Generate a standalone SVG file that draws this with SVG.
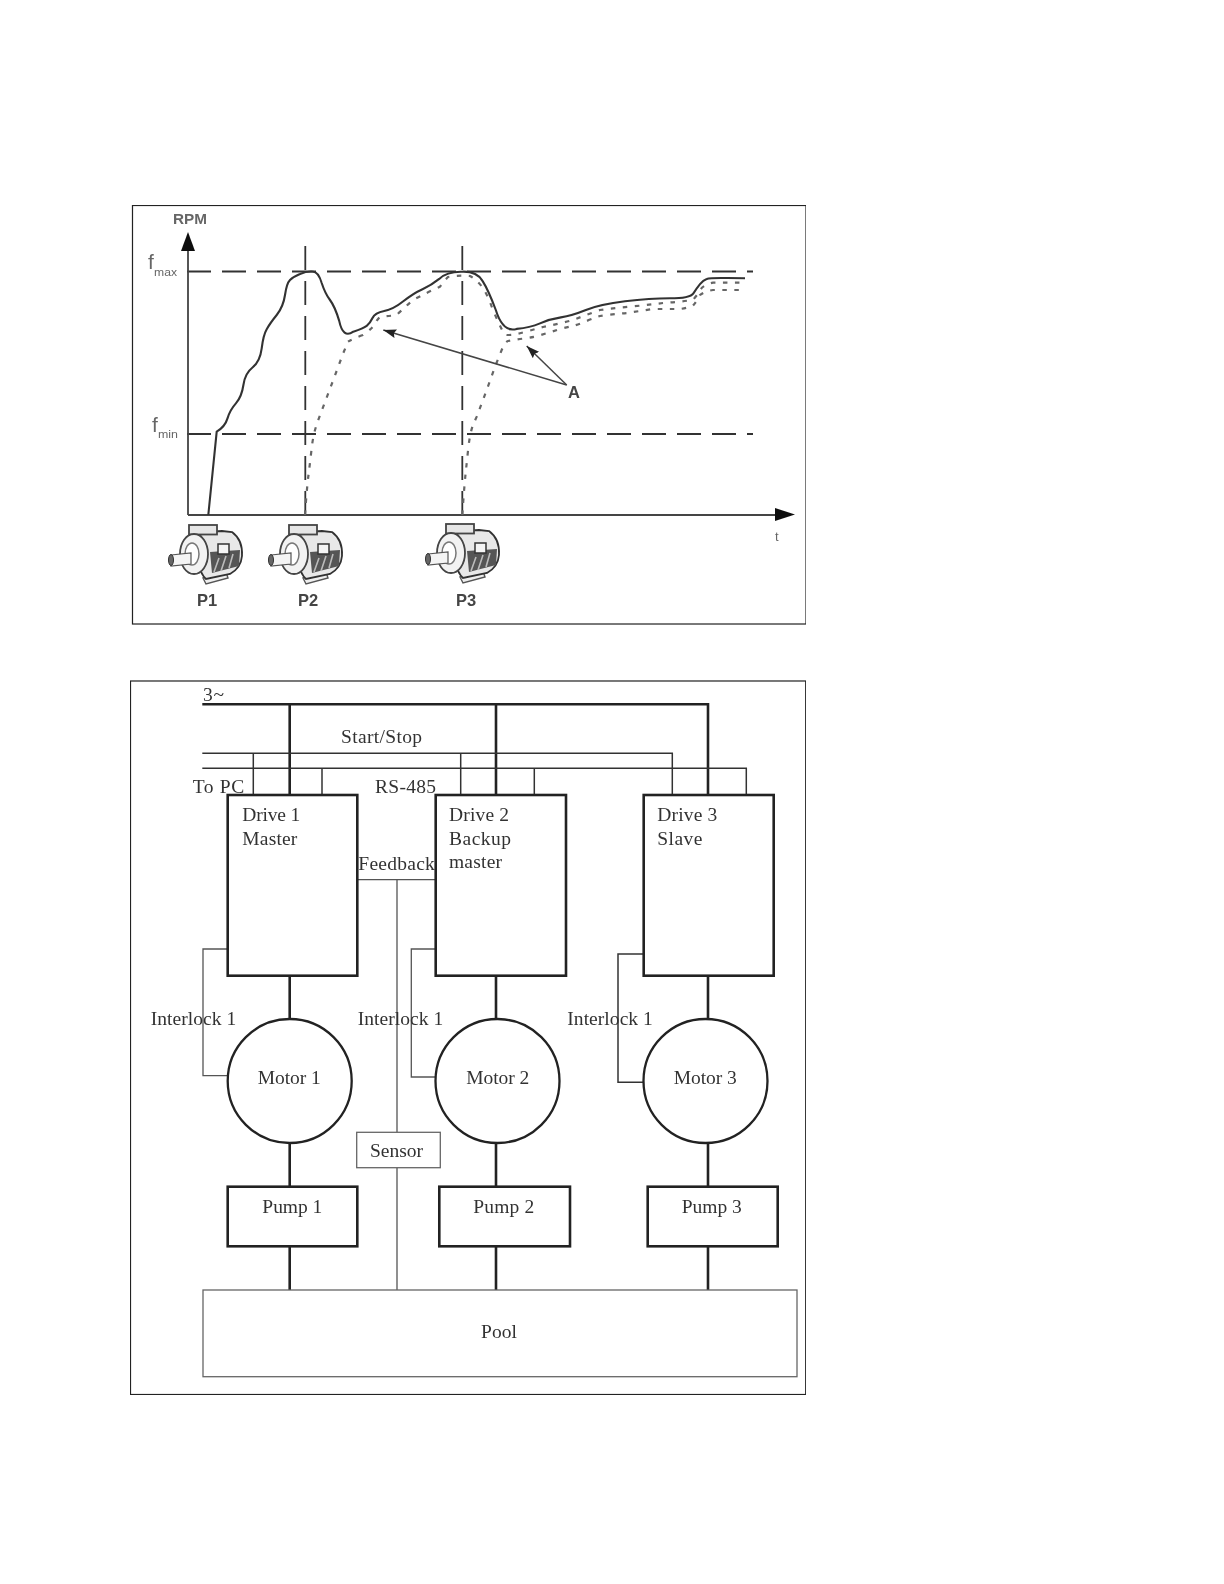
<svg xmlns="http://www.w3.org/2000/svg" xmlns:xlink="http://www.w3.org/1999/xlink" width="1224" height="1584" viewBox="0 0 1224 1584">
<style>
.frame{fill:#fff;stroke:#222;stroke-width:1.2}
.t{font-family:"Liberation Serif","Times New Roman",serif;font-size:19.5px;fill:#333}
.c{font-family:"Liberation Sans",Arial,sans-serif;fill:#666}
.b{font-family:"Liberation Sans",Arial,sans-serif;font-weight:700;font-size:16.5px;fill:#444;text-anchor:middle}
.dash{fill:none;stroke:#333;stroke-width:1.8;stroke-dasharray:24 11}
.sol{fill:none;stroke:#333;stroke-width:2.1;stroke-linejoin:round}
.dot{fill:none;stroke:#666;stroke-width:2.2;stroke-dasharray:4.5 7.5}
.lead{fill:none;stroke:#444;stroke-width:1.5}
.axis{fill:none;stroke:#444;stroke-width:1.8}
.n{fill:#fff;stroke:#222;stroke-width:2.6}
.m{fill:#fff;stroke:#222;stroke-width:2.3}
.g{fill:#fff;stroke:#666;stroke-width:1.3}
.thick{fill:none;stroke:#222;stroke-width:2.6}
.thin{fill:none;stroke:#555;stroke-width:1.3}
.thin2{fill:none;stroke:#333;stroke-width:1.5}
</style>
<defs>
<filter id="soft" x="0" y="0" width="100%" height="100%"><feGaussianBlur stdDeviation="0.4"/></filter>
<filter id="softer" x="-10%" y="-10%" width="120%" height="120%"><feGaussianBlur stdDeviation="0.7"/></filter>
<marker id="ah" markerWidth="14" markerHeight="10" refX="13" refY="4.5" orient="auto" markerUnits="userSpaceOnUse"><path d="M13 4.5 L0 0 L2 4.5 L0 9 Z" fill="#222"/></marker>
<g id="motor" filter="url(#softer)">
<path d="M203 578 L226 572 L228 578 L206 584 Z" fill="#eee" stroke="#555" stroke-width="1.4"/>
<path d="M196 537 Q206 531 222 531 L232 532 Q243 540 242 556 Q241 568 230 574 L206 579 Q196 570 196 537 Z" fill="#e8e8e8" stroke="#333" stroke-width="1.8"/>
<rect x="189" y="525" width="28" height="9.5" fill="#e6e6e6" stroke="#444" stroke-width="1.8"/>
<path d="M210 552 L240 550 L239 566 L212 573 Z" fill="#555"/>
<path d="M214 572 L219 558 M221 571 L226 556 M229 568 L233 554" stroke="#bbb" stroke-width="1.6" fill="none"/>
<rect x="218" y="544" width="11" height="10" fill="#f4f4f4" stroke="#333" stroke-width="1.5"/>
<ellipse cx="194" cy="554" rx="14" ry="20" fill="#f2f2f2" stroke="#444" stroke-width="1.8"/>
<ellipse cx="192" cy="554" rx="7" ry="11" fill="#fff" stroke="#777" stroke-width="1.5"/>
<path d="M171 555 L191 553 L191 564 L171 566 Z" fill="#f4f4f4" stroke="#555" stroke-width="1.2"/>
<ellipse cx="171" cy="560" rx="2.5" ry="5.5" fill="#666" stroke="#333"/>
</g>
</defs>
<rect width="1224" height="1584" fill="#fff"/>
<g filter="url(#soft)">
<g id="chart">
<rect class="frame" x="132.5" y="205.5" width="673.5" height="418.5"/>
<path class="dash" d="M187 271.5H753M187 434H753M305.3 246V515M462.3 246V515"/>
<path class="axis" d="M188 515V240M188 515H778"/>
<path d="M188 232L181 251H195Z" fill="#111"/>
<path d="M795 514.5L775 508V521Z" fill="#111"/>
<path class="sol" d="M208.3 515L216.7 431.7Q225 426.7 227.5 418.4Q230 410 235.9 403.4Q241.7 396.7 243.4 385Q245 373.3 252.5 367.5Q260 361.7 261.7 348.4Q263.3 335 266.7 329.2Q270 323.3 276.7 315Q283.3 306.7 285 295Q286.7 283.3 290 280Q293.3 276.7 300 274Q306.7 271 312.5 271.5Q318.3 271.5 321.7 283Q325 293.3 330 300Q335 306.7 339.2 320.9Q343 339 353.3 331.7Q363.3 328.3 366.7 325.8Q370 323.3 372.5 318Q375 312.7 384.2 311Q393.3 309.3 403.3 301.3Q413.3 293.3 422.5 289.2Q431.7 285 439.2 278.9Q446.7 271.5 461.7 271.7Q476.7 271 482.5 280.9Q488.3 290 495.8 310Q503 333 516.7 328.9Q530 327.7 540 323.4Q550 319 560.9 317.4Q571.7 315.7 585.9 310Q600 304.3 625 301.3Q650 298.3 670 298.3Q690 298.3 693.4 293.3Q696.7 288.3 700 284.2Q703.3 280 706.7 278.9Q710 277.7 727.5 278L745 278.3"/>
<path class="dot" d="M305 515Q306.7 490 308.3 476.5Q310 463 311.7 448Q313.3 433 318.3 419.9L333.3 380L343.3 353L348 341.7Q352 339 363 335Q369 331 373 326.7Q376 321 380 316.7Q390 316 396.7 315Q405 307 413 300Q428 292 440 286.7Q444 281 448 277Q460 275 470 276Q477 280 483 288Q488 296 491.7 306.7Q497 320 503 331.7Q505 335 506.7 335Q514 335 520 333.3Q532 330 543 327Q558 324 573 320Q586 315 600 310Q615 308 630 306.7Q647 305 663 303Q678 302 693 300Q698 294 701.7 288Q706 284 713 282.7L745 282.7"/>
<path class="dot" d="M462.3 515Q464 490 465.3 476.5Q466.7 463 468.3 448Q470 433 473 425L476.7 416.7L486.7 390L495 366.7L501.7 350Q505 342 508 341Q514 340 520 339Q528 338 535 336.7Q548 333 560 329Q567 327 573 326Q580 324 586.7 321Q594 318 600 316Q614 314 627 313Q640 311 653 309Q667 309 680 309Q688 308 693 305.7Q697 301 700 295Q705 291 713 290L742 290"/>
<path class="lead" d="M566.7 385L383.3 330" marker-end="url(#ah)"/>
<path class="lead" d="M566.7 385L526.7 346" marker-end="url(#ah)"/>
<use xlink:href="#motor" href="#motor"/>
<use xlink:href="#motor" href="#motor" x="100"/>
<use xlink:href="#motor" href="#motor" x="257" y="-1"/>
<text class="c" x="173" y="224" font-size="15" font-weight="700" textLength="34" lengthAdjust="spacingAndGlyphs">RPM</text>
<text class="c" x="148" y="269" font-size="21">f</text>
<text class="c" x="154" y="276" font-size="11" textLength="23" lengthAdjust="spacingAndGlyphs">max</text>
<text class="c" x="152" y="432" font-size="21">f</text>
<text class="c" x="158" y="438" font-size="11" textLength="20" lengthAdjust="spacingAndGlyphs">min</text>
<text class="c" x="775" y="541" font-size="13">t</text>
<text class="b" x="574" y="398">A</text>
<text class="b" x="207" y="606">P1</text>
<text class="b" x="308" y="606">P2</text>
<text class="b" x="466" y="606">P3</text>
</g>
<g id="system">
<rect class="frame" x="130.5" y="681" width="675.2" height="713.5"/>
<g id="connectors">
<path class="thick" d="M202.3 704.3H708V795M289.7 704.3V795M496 704.3V795"/>
<path class="thin2" d="M202.3 753.3H672.3V795M253.3 753.3V795M460.7 753.3V795"/>
<path class="thin2" d="M202.3 768.3H746.3V795M322 768.3V795M534.3 768.3V795"/>
<path class="thick" d="M289.7 975.7V1019M496 975.7V1019M708 975.7V1019M289.7 1143V1186.7M496 1143V1186.7M708 1143V1186.7M289.7 1246.3V1290M496 1246.3V1290M708 1246.3V1290"/>
<path class="thin" d="M357.3 879.7H435.7M397 879.7V1132.3M397 1167.7V1290"/>
<path class="thin" d="M227.7 949H203V1075.7H227.7M435.7 949H411.3V1077H435.7"/>
<path class="thin2" d="M643.7 954H618V1082.3H643.7"/>
</g>
<g id="drive1"><rect class="n" x="227.7" y="795" width="129.6" height="180.7"/><text class="t" x="242.3" y="820.7" textLength="58">Drive 1</text><text class="t" x="242.3" y="845" textLength="55">Master</text></g>
<g id="drive2"><rect class="n" x="435.7" y="795" width="130.3" height="180.7"/><text class="t" x="449" y="820.7" textLength="60">Drive 2</text><text class="t" x="449" y="845" textLength="62">Backup</text><text class="t" x="449" y="868.3" textLength="53">master</text></g>
<g id="drive3"><rect class="n" x="643.7" y="795" width="130" height="180.7"/><text class="t" x="657.3" y="820.7" textLength="60">Drive 3</text><text class="t" x="657.3" y="845" textLength="45">Slave</text></g>
<g id="motor1"><circle class="m" cx="289.7" cy="1081" r="62"/><text class="t" x="257.7" y="1084.3" textLength="63">Motor 1</text></g>
<g id="motor2"><circle class="m" cx="497.5" cy="1081" r="62"/><text class="t" x="466.3" y="1084.3" textLength="63">Motor 2</text></g>
<g id="motor3"><circle class="m" cx="705.5" cy="1081" r="62"/><text class="t" x="673.7" y="1084.3" textLength="63">Motor 3</text></g>
<g id="pump1"><rect class="n" x="227.7" y="1186.7" width="129.6" height="59.6"/><text class="t" x="262.3" y="1212.7" textLength="60">Pump 1</text></g>
<g id="pump2"><rect class="n" x="439.3" y="1186.7" width="130.7" height="59.6"/><text class="t" x="473.3" y="1212.7" textLength="61">Pump 2</text></g>
<g id="pump3"><rect class="n" x="647.7" y="1186.7" width="130" height="59.6"/><text class="t" x="681.7" y="1212.7" textLength="60">Pump 3</text></g>
<g id="sensor"><rect class="g" x="356.7" y="1132.3" width="83.6" height="35.4"/><text class="t" x="370" y="1156.7" textLength="53">Sensor</text></g>
<g id="pool"><rect class="g" x="203" y="1290" width="594" height="86.7"/><text class="t" x="481" y="1338.3" textLength="36">Pool</text></g>
<g id="labels">
<text class="t" x="203" y="701" textLength="21">3~</text>
<text class="t" x="341" y="742.7" textLength="81">Start/Stop</text>
<text class="t" x="192.7" y="792.7" textLength="51.5">To PC</text>
<text class="t" x="375" y="792.7" textLength="61">RS-485</text>
<text class="t" x="358.3" y="870" textLength="76.5">Feedback</text>
<text class="t" x="150.7" y="1025" textLength="85.5">Interlock 1</text>
<text class="t" x="357.7" y="1025" textLength="85.5">Interlock 1</text>
<text class="t" x="567.3" y="1025" textLength="85.5">Interlock 1</text>
</g>
</g>
</g>
</svg>
